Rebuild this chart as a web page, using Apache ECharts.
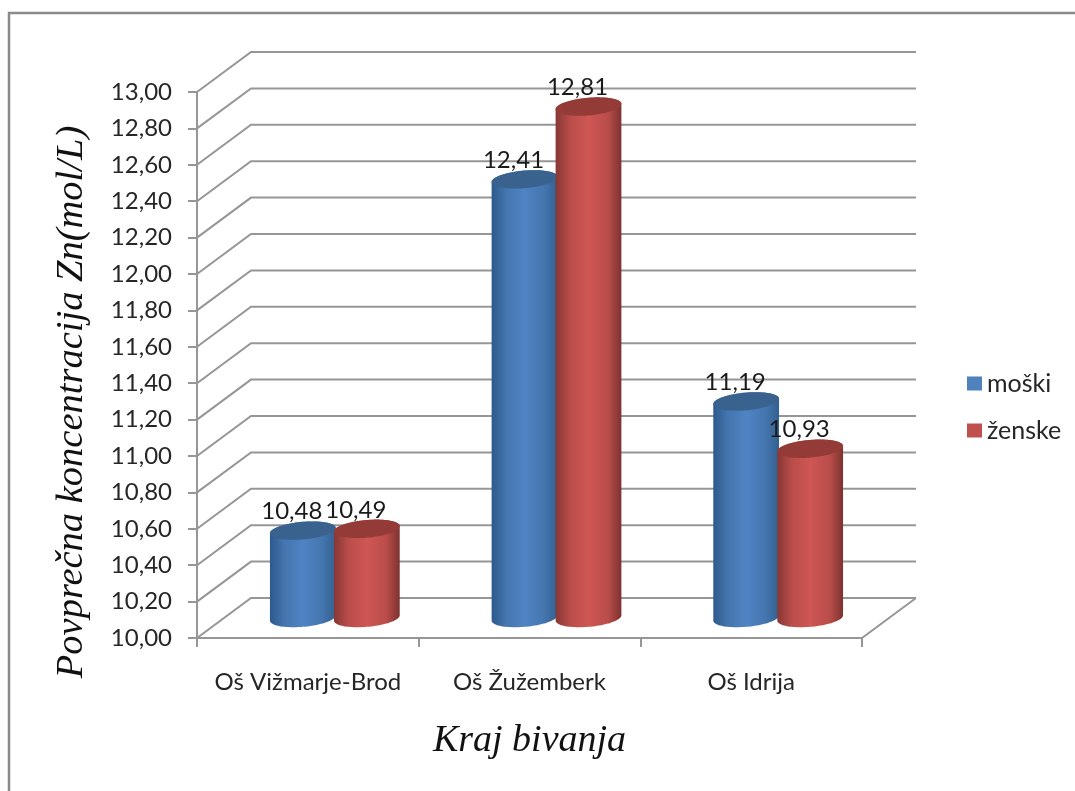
<!DOCTYPE html>
<html>
<head>
<meta charset="utf-8">
<style>html,body{margin:0;padding:0;background:#fff}#c{width:1075px;height:791px}</style>
<script src="https://cdn.jsdelivr.net/npm/echarts@6/dist/echarts.min.js"></script>
</head>
<body>
<div id="c"></div>
<script>
// Mean Zn concentration by place of residence, split by sex
const categories = ['Oš Vižmarje-Brod', 'Oš Žužemberk', 'Oš Idrija'];
const moski = [10.48, 12.41, 11.19];
const zenske = [10.49, 12.81, 10.93];
const yTicks = [10, 10.2, 10.4, 10.6, 10.8, 11, 11.2, 11.4, 11.6, 11.8, 12, 12.2, 12.4, 12.6, 12.8, 13];
const axisFloor = 10;

// Oblique projection of the chart box
const DEPTH_X = 54, DEPTH_Y = -40;
const GRID_COLOR = '#969696';
const LINE_W = 2;
const LABEL_FONT = 'Lato';
const comma = v => v.toFixed(2).replace('.', ',');

// Cylinder cap: tilted ellipse; returns its outline point at parameter t
function capPoint(cx, cy, rx, ry, tilt, t) {
  return [
    cx + rx * Math.cos(t) * Math.cos(tilt) - ry * Math.sin(t) * Math.sin(tilt),
    cy + rx * Math.cos(t) * Math.sin(tilt) + ry * Math.sin(t) * Math.cos(tilt)
  ];
}

function cylinderRenderer(shift, palette) {
  return function (params, api) {
    const i = api.value(0), v = api.value(1);
    const top = api.coord([i, v]);
    const bottom = api.coord([i, axisFloor]);
    const cx = top[0] + DEPTH_X / 2 + shift;
    const yTop = top[1] + DEPTH_Y / 2, yBot = bottom[1] + DEPTH_Y / 2;
    const rx = 33, ry = 8.8, tilt = -5 * Math.PI / 180;
    const t0 = Math.atan2(-ry * Math.sin(tilt), rx * Math.cos(tilt));
    const pts = [], capPts = [];
    const N = 48;
    // front half of the base, rightmost silhouette point through to the leftmost
    for (let k = 0; k <= N; k++) pts.push(capPoint(cx, yBot, rx, ry, tilt, t0 + Math.PI * k / N));
    // back half of the cap, closing the side surface
    for (let k = 0; k <= N; k++) pts.push(capPoint(cx, yTop, rx, ry, tilt, t0 + Math.PI + Math.PI * k / N));
    for (let k = 0; k < N * 2; k++) capPts.push(capPoint(cx, yTop, rx, ry, tilt, Math.PI * k / N));
    return {
      type: 'group',
      children: [
        {
          type: 'polygon', shape: { points: pts },
          style: {
            fill: new echarts.graphic.LinearGradient(0, 0, 1, 0, [
              { offset: 0, color: palette[0] },
              { offset: 0.22, color: palette[4] },
              { offset: 0.5, color: palette[1] },
              { offset: 0.8, color: palette[4] },
              { offset: 1, color: palette[2] }
            ])
          }
        },
        { type: 'polygon', shape: { points: capPts }, style: { fill: palette[3] } },
        {
          type: 'text', z2: 50,
          style: {
            text: comma(v), x: cx - 11, y: top[1] - 39,
            align: 'center', verticalAlign: 'middle',
            font: '24px ' + LABEL_FONT, fill: '#1a1a1a'
          }
        }
      ]
    };
  };
}

// Walls: each gridline runs back along the side wall and across the rear wall
function wallRenderer(params, api) {
  const v = api.value(0);
  const band = api.size([1, 0])[0];
  const left = api.coord([0, v]);
  const xL = left[0] - band / 2, y = left[1];
  const xR = api.coord([categories.length - 1, v])[0] + band / 2;
  const children = [{
    type: 'polyline',
    shape: { points: [[xL, y], [xL + DEPTH_X, y + DEPTH_Y], [xR + DEPTH_X, y + DEPTH_Y]] },
    style: { stroke: GRID_COLOR, lineWidth: LINE_W, fill: 'none' }
  }];
  if (v === axisFloor) {
    children.push({
      type: 'line',
      shape: { x1: xR, y1: y, x2: xR + DEPTH_X, y2: y + DEPTH_Y },
      style: { stroke: GRID_COLOR, lineWidth: LINE_W }
    });
  }
  return { type: 'group', children };
}

const chart = echarts.init(document.getElementById('c'));
chart.setOption({
  animation: false,
  backgroundColor: '#fff',
  grid: { left: 197, top: 92, width: 665, height: 546 },
  legend: {
    data: ['moški', 'ženske'],
    orient: 'vertical', left: 962, top: 366,
    icon: 'rect', itemWidth: 15, itemHeight: 14, itemGap: 22,
    textStyle: { fontFamily: LABEL_FONT, fontSize: 25, color: '#262626' }
  },
  xAxis: {
    type: 'category', data: categories,
    axisLine: { lineStyle: { color: GRID_COLOR, width: LINE_W } },
    axisTick: { show: true, length: 9, alignWithLabel: false, lineStyle: { color: GRID_COLOR, width: LINE_W } },
    axisLabel: { margin: 32, fontFamily: LABEL_FONT, fontSize: 24, color: '#262626', interval: 0 },
    splitLine: { show: false },
    name: 'Kraj bivanja', nameLocation: 'middle', nameGap: 84,
    nameTextStyle: { fontFamily: 'Liberation Serif', fontStyle: 'italic', fontSize: 38, color: '#111' }
  },
  yAxis: {
    type: 'value', min: 10, max: 13, interval: 0.2,
    axisLine: { show: true, lineStyle: { color: GRID_COLOR, width: LINE_W } },
    axisTick: { show: true, length: 9, lineStyle: { color: GRID_COLOR, width: LINE_W } },
    axisLabel: { margin: 25, fontFamily: LABEL_FONT, fontSize: 24, color: '#262626', formatter: comma },
    splitLine: { show: false }
  },
  graphic: [
    {
      type: 'polyline', silent: true,
      shape: { points: [[9, 791], [9, 13], [1075, 13]] },
      style: { stroke: '#8a8a8a', lineWidth: 2.5, fill: 'none' }
    },
    {
      type: 'text', silent: true, x: 72, y: 402, rotation: Math.PI / 2,
      style: {
        text: 'Povprečna koncentracija Zn(mol/L)',
        align: 'center', verticalAlign: 'middle',
        font: 'italic 38.5px "Liberation Serif"', fill: '#111'
      }
    }
  ],
  series: [
    {
      name: 'mreža', type: 'custom', silent: true, z: 1,
      data: yTicks.map(v => [v]),
      encode: { y: 0 },
      renderItem: wallRenderer
    },
    {
      name: 'moški', type: 'custom', z: 3, silent: true,
      itemStyle: { color: '#4f81bd' },
      data: moski.map((v, i) => [i, v]),
      encode: { x: 0, y: 1 },
      renderItem: cylinderRenderer(-32, ['#2d5a8c', '#4f84c4', '#33608f', '#3a628f', '#4475ae'])
    },
    {
      name: 'ženske', type: 'custom', z: 4, silent: true,
      itemStyle: { color: '#c0504d' },
      data: zenske.map((v, i) => [i, v]),
      encode: { x: 0, y: 1 },
      renderItem: cylinderRenderer(32, ['#863735', '#cf5653', '#7d3230', '#943b38', '#b94d4a'])
    }
  ]
});
</script>
</body>
</html>
